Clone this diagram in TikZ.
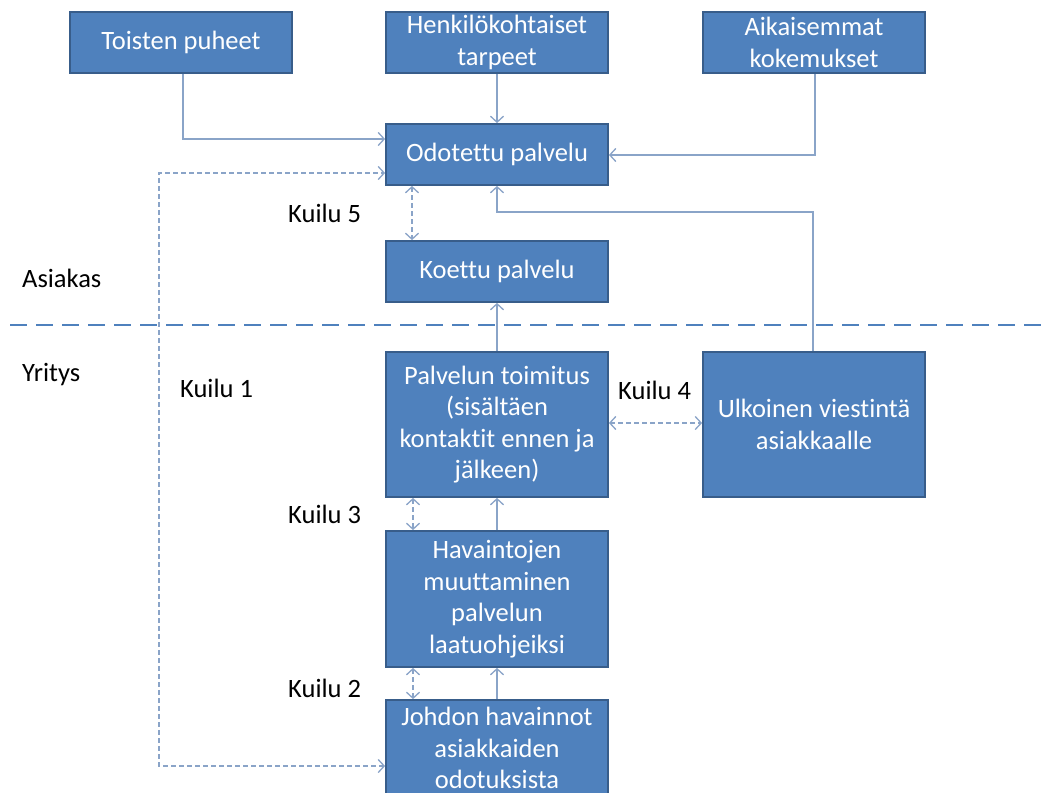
\documentclass[tikz,border=0pt]{standalone}
\usepackage{fontspec}
\setmainfont{Carlito}[Ligatures=NoCommon]
\usetikzlibrary{arrows.meta,calc}
\definecolor{boxfill}{RGB}{79,129,189}
\definecolor{boxline}{RGB}{56,93,138}
\definecolor{connc}{RGB}{138,164,200}
\definecolor{sepc}{RGB}{79,129,189}
\tikzset{
  box/.style={rectangle, fill=boxfill, draw=boxline, line width=1.8pt, inner sep=0pt,
    minimum width=222pt, text=white, align=center,
    font=\fontsize{26.5}{31.5}\selectfont},
  lbl/.style={inner sep=0pt, text=black, font=\fontsize{26.5}{31.5}\selectfont},
  conn/.style={draw=connc, line width=1.3pt, arrows={-Straight Barb[length=6pt,width=13pt]}},
  dconn/.style={draw=connc, line width=1.3pt, dash pattern=on 5pt off 3pt,
    arrows={Straight Barb[length=6pt,width=13pt]-Straight Barb[length=6pt,width=13pt]}},
  sepline/.style={draw=sepc, line width=2pt, dash pattern=on 17pt off 9pt}
}
\begin{document}
\begin{tikzpicture}[x=1pt,y=-1pt]
\useasboundingbox (0,0) rectangle (1048,792);
\clip (0,0) rectangle (1048,792);
\fill[white] (0,0) rectangle (1048,792);
% boxes
\node[box, minimum height=61pt] (toisten) at (181,42.5) {Toisten puheet};
\node[box, minimum height=61pt] (henk) at (497,42.5) {Henkilökohtaiset\\tarpeet};
\node[box, minimum height=61pt] (aik) at (814,42.5) {Aikaisemmat\\kokemukset};
\node[box, minimum height=61pt] (odo) at (497,154.5) {Odotettu palvelu};
\node[box, minimum height=61pt] (koe) at (497,271.5) {Koettu palvelu};
\node[box, minimum height=145pt] (palv) at (497,424.5) {Palvelun toimitus\\(sisältäen\\kontaktit ennen ja\\jälkeen)};
\node[box, minimum height=145pt] (ulk) at (814,424.5) {Ulkoinen viestintä\\asiakkaalle};
\node[box, minimum height=136pt] (hav) at (497,599) {Havaintojen\\muuttaminen\\palvelun\\laatuohjeiksi};
\node[box, minimum height=96pt] (joh) at (497,748) {Johdon havainnot\\asiakkaiden\\odotuksista};
% labels
\node[lbl, anchor=west] (asiakas) at (22,278) {Asiakas};
\node[lbl, anchor=west] (yritys) at (22,375) {Yritys};
\node[lbl, anchor=west] (k1) at (180,388) {Kuilu 1};
\node[lbl, anchor=west] (k5) at (288,213) {Kuilu 5};
\node[lbl, anchor=west] (k4) at (618,390) {Kuilu 4};
\node[lbl, anchor=west] (k3) at (288,514) {Kuilu 3};
\node[lbl, anchor=west] (k2) at (288,688) {Kuilu 2};
% separator
\coordinate (sepL) at (10,325);
\coordinate (sepR) at (1048,325);
\draw[sepline] (sepL) -- (sepR);
% helper coordinates
\coordinate (a1) at (183,139);
\coordinate (a3) at (815,155);
\coordinate (a4) at (813,212);
\coordinate (g5) at (412,0);
\coordinate (g4) at (0,423);
\coordinate (g3) at (413,0);
\coordinate (c1) at (159,766);
\coordinate (c1b) at (159,173);
% solid connectors
\draw[conn] (toisten.south -| a1) |- (odo.west |- a1);
\draw[conn] (henk.south) -- (odo.north);
\draw[conn] (aik.south -| a3) |- (odo.east |- a3);
\draw[conn] (ulk.north -| a4) -- (a4) -| (odo.south);
\draw[conn] (palv.north) -- (koe.south);
\draw[conn] (hav.north) -- (palv.south);
\draw[conn] (joh.north) -- (hav.south);
% gaps (dashed)
\draw[dconn] (odo.south -| g5) -- (koe.north -| g5);
\draw[dconn] (palv.east |- g4) -- (ulk.west |- g4);
\draw[dconn] (palv.south -| g3) -- (hav.north -| g3);
\draw[dconn] (hav.south -| g3) -- (joh.north -| g3);
\draw[dconn] (joh.west |- c1) -- (c1) -- (c1b) -- (odo.west |- c1b);
\end{tikzpicture}
\end{document}
